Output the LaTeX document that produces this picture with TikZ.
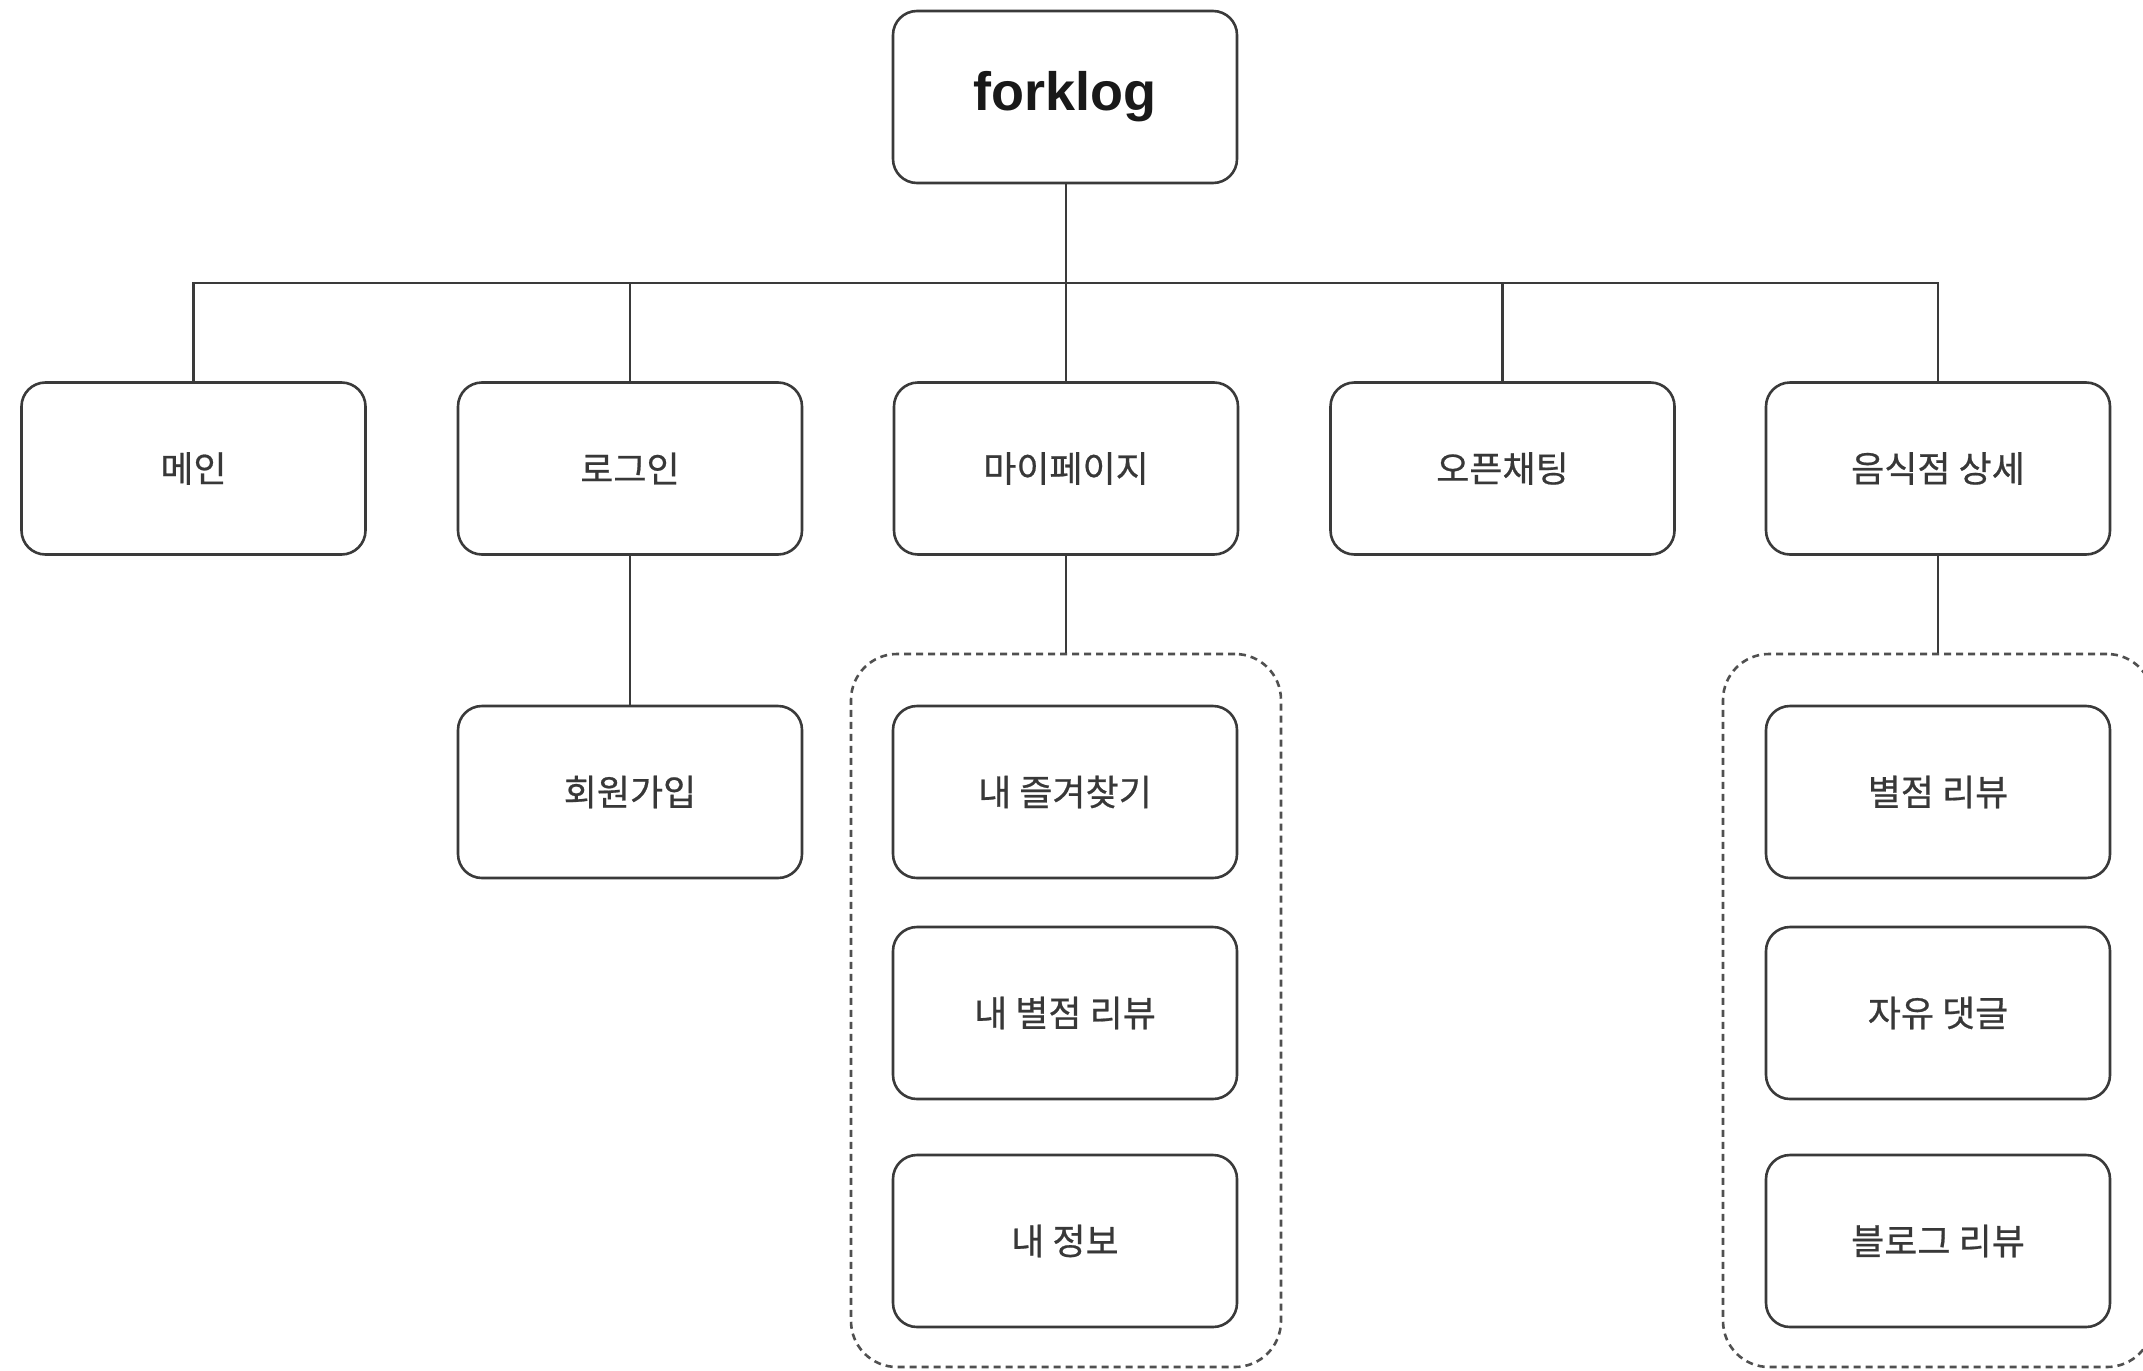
\documentclass[tikz,border=0pt]{standalone}
\usepackage{fontspec}
\newfontfamily\krfont[FakeBold=0.6]{Noto Sans CJK KR}
\newfontfamily\titlefont{Liberation Sans}
\definecolor{linec}{HTML}{3A3A3A}
\definecolor{textc}{HTML}{383838}
\definecolor{dashc}{HTML}{505050}
\begin{document}
\begin{tikzpicture}[x=1pt,y=-1pt,
  box/.style={draw=linec, line width=2.6pt, rounded corners=24pt, fill=white,
    minimum width=344pt, minimum height=172pt, inner sep=0pt,
    text=textc, font=\krfont\fontsize{36}{42}\selectfont},
  titlebox/.style={box, font=\titlefont\bfseries\fontsize{54}{60}\selectfont, text=black!90},
  grp/.style={draw=dashc, line width=2.6pt, dash pattern=on 7pt off 5pt, rounded corners=46pt,
    minimum width=430pt, minimum height=713pt, inner sep=0pt},
  conn/.style={draw=linec, line width=2.6pt}
]
\useasboundingbox (0,0) rectangle (2143,1370);
\clip (0,0) rectangle (2143,1370);
\fill[white] (0,0) rectangle (2143,1370);

% dashed groups
\node[grp] (g1) at (1066,1010.5) {};
\node[grp] (g2) at (1938,1010.5) {};

% root
\node[titlebox] (root) at (1065,97) {forklog};

% level 2
\node[box] (main) at (193.5,468.5) {메인};
\node[box] (login) at (630,468.5) {로그인};
\node[box] (mypage) at (1066,468.5) {마이페이지};
\node[box] (chat) at (1502.5,468.5) {오픈채팅};
\node[box] (rest) at (1938,468.5) {음식점 상세};

% level 3
\node[box] (signup) at (630,792) {회원가입};
\node[box] (fav) at (1065,792) {내 즐겨찾기};
\node[box] (myrev) at (1065,1013) {내 별점 리뷰};
\node[box] (myinfo) at (1065,1241) {내 정보};
\node[box] (star) at (1938,792) {별점 리뷰};
\node[box] (free) at (1938,1013) {자유 댓글};
\node[box] (blog) at (1938,1241) {블로그 리뷰};

% connectors
\coordinate (bus) at (1066,283);
\draw[conn] (root.south -| bus) -- (bus);
\draw[conn] (bus) -| (main.north);
\draw[conn] (bus) -| (login.north);
\draw[conn] (bus) -- (mypage.north -| bus);
\draw[conn] (bus) -| (chat.north);
\draw[conn] (bus) -| (rest.north);
\draw[conn] (login.south) -- (signup.north);
\draw[conn] (mypage.south -| g1.north) -- (g1.north);
\draw[conn] (rest.south) -- (g2.north);
\end{tikzpicture}
\end{document}
